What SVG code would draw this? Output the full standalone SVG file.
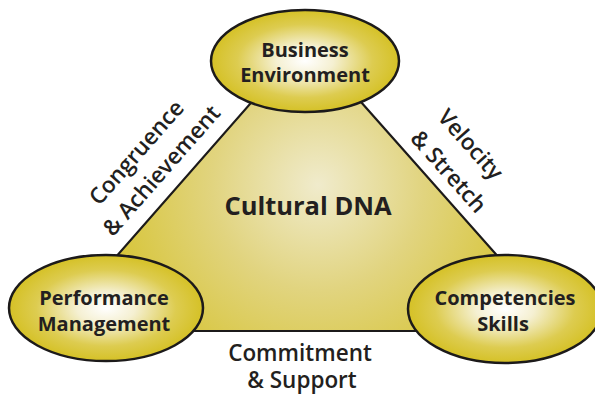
<svg xmlns="http://www.w3.org/2000/svg" width="595" height="394" viewBox="0 0 595 394">
  <defs>
    <radialGradient id="triFill" gradientUnits="userSpaceOnUse" cx="318" cy="185" r="235">
      <stop offset="0" stop-color="#f0ebcc"/>
      <stop offset="0.45" stop-color="#e1d47f"/>
      <stop offset="1" stop-color="#d5c22a"/>
    </radialGradient>
    <radialGradient id="nodeFill" cx="0.5" cy="0.5" r="0.5">
      <stop offset="0" stop-color="#ffffff"/>
      <stop offset="0.3" stop-color="#f5f0d2"/>
      <stop offset="0.72" stop-color="#ddcc50"/>
      <stop offset="1" stop-color="#d5c126"/>
    </radialGradient>
  </defs>
  <style>
    .node { fill: url(#nodeFill); stroke: #1c1a1a; stroke-width: 2.5; }
    .tri { fill: url(#triFill); stroke: #1c1a1a; stroke-width: 2.2; stroke-linejoin: round; }
    .nlabel { font-family: "Open Sans", "Liberation Sans", sans-serif; font-weight: 700; font-size: 20px; fill: #231f20; text-anchor: middle; }
    .elabel { font-family: "Open Sans", "Liberation Sans", sans-serif; font-weight: 600; font-size: 22.5px; fill: #231f20; text-anchor: middle; }
    .core { font-family: "Open Sans", "Liberation Sans", sans-serif; font-weight: 700; font-size: 25.5px; fill: #231f20; text-anchor: middle; }
  </style>
  <rect width="595" height="394" fill="#ffffff"/>

  <!-- central triangle linking the three nodes -->
  <g id="connectors">
    <polygon class="tri" points="306,40 564,331 51,331"/>
    <text class="core" x="308" y="215">Cultural DNA</text>
    <g transform="translate(137,153) rotate(-48.7)">
      <text class="elabel" x="0" y="7">Congruence</text>
    </g>
    <g transform="translate(162,171) rotate(-48.7)">
      <text class="elabel" x="0" y="7">&amp; Achievement</text>
    </g>
    <g transform="translate(470,145) rotate(48.5)">
      <text class="elabel" x="0" y="7">Velocity</text>
    </g>
    <g transform="translate(448,172) rotate(48.5)">
      <text class="elabel" x="0" y="7">&amp; Stretch</text>
    </g>
    <text class="elabel" x="300" y="361">Commitment</text>
    <text class="elabel" x="302" y="388">&amp; Support</text>
  </g>

  <g id="business-environment">
    <ellipse class="node" cx="305" cy="61" rx="94" ry="51"/>
    <text class="nlabel" x="305" y="57">Business</text>
    <text class="nlabel" x="305" y="82">Environment</text>
  </g>

  <g id="performance-management">
    <ellipse class="node" cx="106" cy="308" rx="97" ry="53"/>
    <text class="nlabel" x="104" y="305">Performance</text>
    <text class="nlabel" x="104" y="331">Management</text>
  </g>

  <g id="competencies-skills">
    <ellipse class="node" cx="505" cy="309" rx="97" ry="54"/>
    <text class="nlabel" x="505" y="305">Competencies</text>
    <text class="nlabel" x="503" y="331">Skills</text>
  </g>
</svg>
